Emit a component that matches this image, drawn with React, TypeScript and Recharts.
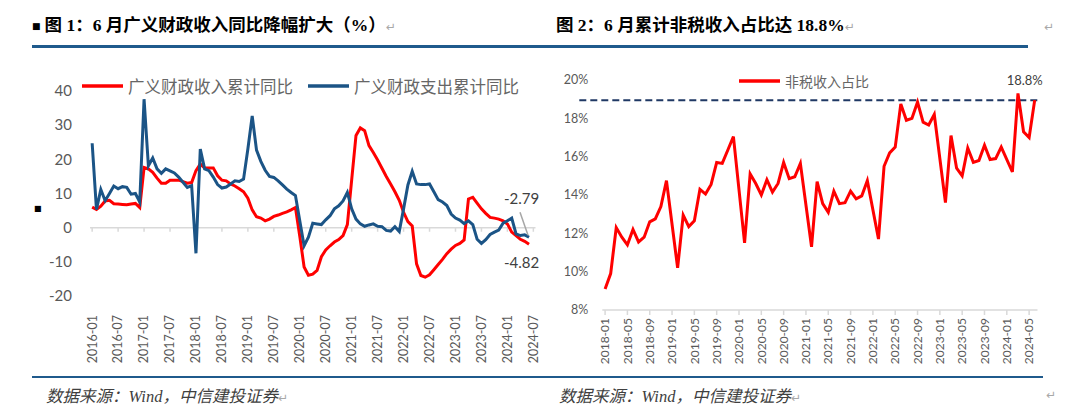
import { LineChart, Line, XAxis, YAxis, ReferenceLine, Legend } from 'recharts'

const monthLabels = (startYear: number, count: number) =>
  Array.from({ length: count }, (_, i) => `${startYear + Math.floor(i / 12)}-${String((i % 12) + 1).padStart(2, '0')}`)

// 图1：广义财政收入 / 支出累计同比（%），2016-01 ~ 2024-06，轴延伸到 2024-07
const leftMonths = monthLabels(2016, 103)
const leftSeriesNames = ['广义财政收入累计同比', '广义财政支出累计同比']
const revenueYoY = [
  6.0, 5.3, 6.3, 7.8, 8.0, 7.0, 6.9, 6.8, 6.7, 6.9, 7.1, 5.9,
  17.6, 17.2, 16.2, 14.5, 13.0, 13.0, 13.9, 13.9, 13.9, 13.5, 13.0, 13.2,
  16.7, 18.6, 17.5, 17.5, 17.5, 15.2, 13.9, 13.7, 12.8, 12.2, 11.4, 10.5,
  8.6, 5.2, 3.2, 2.8, 2.0, 2.5, 3.3, 3.7, 4.2, 4.6, 5.2, 5.9,
  -2.5, -11.5, -13.9, -13.6, -12.5, -8.5, -6.5, -5.3, -4.2, -3.5, -2.3, 0.9,
  14.0, 27.0, 29.2, 28.4, 24.0, 22.0, 19.8, 17.4, 15.0, 12.8, 10.5, 8.0,
  4.5, 1.8, 0.5, -10.6, -14.0, -14.5, -13.8, -12.3, -10.8, -9.3, -7.6, -6.3,
  -5.2, -4.6, -3.6, 8.4, 8.9, 7.2, 5.5, 4.2, 3.0, 2.8, 2.5, 2.0,
  1.1, -1.3, -2.3, -3.4, -4.0, -4.82,
]
const spendingYoY = [
  24.7, 5.3, 11.2, 7.9, 10.0, 12.2, 11.4, 12.0, 11.8, 9.8, 10.0, 7.5,
  37.6, 18.1, 20.4, 17.2, 15.9, 17.2, 16.6, 16.0, 14.8, 13.3, 11.8, 12.3,
  -7.5, 23.0, 17.2, 16.7, 14.8, 12.6, 11.6, 11.9, 12.8, 13.7, 13.5, 14.2,
  23.0, 32.7, 22.7, 19.4, 16.8, 15.0, 14.7, 13.7, 12.5, 11.3, 10.3, 9.4,
  2.0, -5.3, -2.8, 1.3, 1.1, 0.9, 2.3, 3.5, 5.5, 6.4, 7.8, 10.3,
  5.5, 2.5, 1.1, 0.4, 0.8, 1.1, 0.4, 0.3, -0.8, -1.0, 0.3, -1.1,
  5.5, 12.5, 16.5, 12.8, 12.6, 12.6, 12.8, 10.5, 8.2, 7.5, 6.5, 4.0,
  2.8, 2.2, 1.2, 2.0, 0.9, -3.4, -4.6, -3.5, -2.0, -1.3, -0.7, 1.3,
  2.0, 2.8, -1.8, -2.3, -2.1, -2.79,
]
const leftTicks = [-20, -10, 0, 10, 20, 30, 40]
const leftTickMonths = leftMonths.filter((_, i) => i % 6 === 0)

// 图2：非税收入占比（%），2018-01 ~ 2024-06，1 月无数据
const rightMonths = monthLabels(2018, 78)
const nonTaxShare = [
  9.1, 9.9, 12.3, 11.8, 11.4, 12.2, 11.55, 11.8, 12.6, 12.75, 13.4, 14.75,
  null, 10.2, 12.95, 12.35, 12.65, 14.3, 14.05, 14.55, 15.7, 15.65, 16.35, 17.05,
  null, 11.5, 15.1, 14.6, 14.0, 14.8, 14.15, 14.6, 15.7, 14.85, 14.95, 15.65,
  null, 11.3, 14.7, 13.55, 13.1, 14.2, 13.55, 13.6, 14.2, 13.8, 13.95, 14.75,
  null, 11.7, 15.5, 16.2, 16.5, 18.75, 17.9, 18.0, 18.85, 17.8, 17.65, 18.2,
  null, 13.6, 17.1, 15.4, 15.0, 16.45, 15.7, 15.8, 16.6, 15.85, 15.9, 16.5,
  null, 15.2, 19.3, 17.3, 17.0, 18.95,
]
const rightTicks = [8, 10, 12, 14, 16, 18, 20]
const markLevel = 18.95
const markText = '18.8%'

const leftData = leftMonths.map((month, i) => ({
  month,
  revenue: revenueYoY[i] ?? null,
  spending: spendingYoY[i] ?? null,
}))
const rightData = rightMonths.map((month, i) => ({ month, share: nonTaxShare[i] ?? null }))

const latin = 'Lato, "Noto Sans CJK SC", sans-serif'
const cjk = '"Noto Sans CJK SC", sans-serif'
const serif = '"Liberation Serif", "Noto Sans CJK SC", serif'
const axisGray = '#595959'
const ruleBlue = '#1f5a8c'
const red = '#ff0000'
const blue = '#1b5486'

const RotatedTick = (props: any) => {
  const { x, y, payload, fontSize } = props
  return (
    <text
      x={x}
      y={y}
      transform={`rotate(-90, ${x}, ${y})`}
      textAnchor="end"
      dy="0.35em"
      fontSize={fontSize}
      fill={axisGray}
      fontFamily={latin}
    >
      {payload.value}
    </text>
  )
}

// legend keeps the series order, not the alphabetical one
const LineLegend = ({ payload, fontSize, gap, order }: any) => {
  const items = [...(payload ?? [])].sort((a: any, b: any) => order.indexOf(a.value) - order.indexOf(b.value))
  return (
    <div style={{ display: 'flex', alignItems: 'center', gap }}>
      {items.map((item: any) => (
        <div key={item.value} style={{ display: 'flex', alignItems: 'center' }}>
          <svg width={41} height={6}>
            <line x1={0} y1={3} x2={41} y2={3} stroke={item.color} strokeWidth={3.5} />
          </svg>
          <span style={{ marginLeft: 5, fontSize, color: '#666', fontFamily: cjk, lineHeight: '22px', whiteSpace: 'nowrap' }}>
            {item.value}
          </span>
        </div>
      ))}
    </div>
  )
}

// 只在最后一个点上画数值标注
const endNote = (last: number, dx: number, dy: number, text: (v: number) => string, fontSize: number, leader?: boolean) =>
  (p: any) => {
    if (p.index !== last) return <g key={`dot-${p.index}`} />
    return (
      <g key={`dot-${p.index}`}>
        {leader && (
          <line x1={p.cx - 9} y1={p.cy - 25} x2={p.cx - 1} y2={p.cy - 2} stroke="#a6a6a6" strokeWidth={1.5} />
        )}
        <text x={p.cx + dx} y={p.cy + dy} dy="0.35em" textAnchor="middle" fontSize={fontSize} fill="#404040" fontFamily={latin}>
          {text(p.value)}
        </text>
      </g>
    )
  }

const LeftChart = () => (
  <LineChart width={545} height={417} data={leftData} margin={{ top: 91, right: 9.5, bottom: 61, left: 0 }}>
    <XAxis
      dataKey="month"
      interval={5}
      axisLine={false}
      tickLine={false}
      tickSize={0}
      tickMargin={19}
      height={60}
      padding={{ left: 2.16, right: 2.16 }}
      tick={(p: any) => <RotatedTick {...p} fontSize={12.5} />}
    />
    <YAxis
      width={90}
      domain={[-20, 40]}
      ticks={leftTicks}
      axisLine={false}
      tickLine={false}
      tickSize={0}
      tickMargin={18}
      tick={{ fontSize: 15, fill: axisGray, fontFamily: latin }}
    />
    <ReferenceLine y={0} stroke="#d9d9d9" strokeWidth={1.5} />
    {leftTickMonths.map((m) => (
      <ReferenceLine key={m} segment={[{ x: m, y: 0 }, { x: m, y: -1.2 }]} stroke="#d9d9d9" strokeWidth={1.5} />
    ))}
    <Legend
      verticalAlign="middle"
      align="center"
      wrapperStyle={{ top: 74.7, left: 82, width: 460, height: 22 }}
      content={(p: any) => <LineLegend payload={p.payload} fontSize={16.5} gap={15} order={leftSeriesNames} />}
    />
    <Line
      name={leftSeriesNames[0]}
      dataKey="revenue"
      type="linear"
      stroke={red}
      strokeWidth={3}
      dot={endNote(revenueYoY.length - 1, -7.5, 19, (v) => v.toFixed(2), 15)}
      activeDot={false}
      isAnimationActive={false}
    />
    <Line
      name={leftSeriesNames[1]}
      dataKey="spending"
      type="linear"
      stroke={blue}
      strokeWidth={3}
      dot={endNote(spendingYoY.length - 1, -7.5, -38, (v) => v.toFixed(2), 15, true)}
      activeDot={false}
      isAnimationActive={false}
    />
  </LineChart>
)

const RightChart = () => (
  <LineChart width={510} height={417} data={rightData} margin={{ top: 80, right: 12.5, bottom: 47, left: 0 }}>
    <XAxis
      dataKey="month"
      interval={3}
      axisLine={{ stroke: '#d9d9d9', strokeWidth: 1.5 }}
      tickLine={{ stroke: '#d9d9d9', strokeWidth: 1.5 }}
      tickSize={5}
      tickMargin={3}
      height={60}
      padding={{ left: 2.79, right: 2.79 }}
      tick={(p: any) => <RotatedTick {...p} fontSize={12} />}
    />
    <YAxis
      width={62.3}
      domain={[8, 20]}
      ticks={rightTicks}
      tickFormatter={(v) => `${v}%`}
      axisLine={false}
      tickLine={false}
      tickSize={0}
      tickMargin={14}
      tick={{ fontSize: 12.5, fill: axisGray, fontFamily: latin }}
    />
    <ReferenceLine
      y={markLevel}
      stroke="#1f3864"
      strokeWidth={2}
      strokeDasharray="7 4"
      shape={(p: any) => (
        <line x1={p.x1 - 23} y1={p.y1} x2={p.x2 + 3} y2={p.y2} stroke="#1f3864" strokeWidth={2} strokeDasharray="7 4" />
      )}
    />
    <Legend
      verticalAlign="middle"
      align="center"
      wrapperStyle={{ top: 69.7, left: 199, width: 220, height: 22 }}
      content={(p: any) => <LineLegend payload={p.payload} fontSize={14} gap={0} order={['非税收入占比']} />}
    />
    <Line
      name="非税收入占比"
      dataKey="share"
      type="linear"
      stroke={red}
      strokeWidth={3}
      connectNulls
      dot={endNote(nonTaxShare.length - 1, -10, -20, () => markText, 13)}
      activeDot={false}
      isAnimationActive={false}
    />
  </LineChart>
)

const text = (style: any) => ({ position: 'absolute' as const, whiteSpace: 'nowrap' as const, ...style })
const returnMark = { fontFamily: '"DejaVu Sans"', color: '#a8a8a8', fontWeight: 400, fontStyle: 'normal', fontSize: 12 }

export default function App() {
  return (
    <div style={{ position: 'absolute', left: 0, top: 0, width: 1080, height: 417, background: '#fff', overflow: 'hidden' }}>
      <div style={text({ left: 32, top: 14, fontFamily: serif, fontWeight: 700, fontSize: 17.5, lineHeight: '22px', color: '#000' })}>
        <span style={{ fontFamily: '"DejaVu Sans"', fontSize: 9, marginRight: 4, position: 'relative', top: -2 }}>■</span>
        图 1：6 月广义财政收入同比降幅扩大（%）<span style={returnMark}>↵</span>
      </div>
      <div style={text({ left: 556, top: 14, fontFamily: serif, fontWeight: 700, fontSize: 17.5, lineHeight: '22px', color: '#000' })}>
        图 2：6 月累计非税收入占比达 18.8%<span style={returnMark}>↵</span>
      </div>
      <div style={text({ left: 1044, top: 20, ...returnMark })}>↵</div>
      <div style={{ position: 'absolute', left: 32, top: 45, width: 996, height: 3, background: ruleBlue }} />

      <div style={{ position: 'absolute', left: 0, top: 0 }}>
        <LeftChart />
      </div>
      <div style={{ position: 'absolute', left: 540, top: 0 }}>
        <RightChart />
      </div>
      <div style={text({ left: 34, top: 204, fontFamily: '"DejaVu Sans"', fontSize: 8, color: '#000' })}>■</div>

      <div style={{ position: 'absolute', left: 32, top: 376, width: 1011, height: 2, background: ruleBlue }} />
      <div style={text({ left: 46, top: 386, fontFamily: serif, fontStyle: 'italic', fontSize: 16.5, lineHeight: '22px', color: '#404040' })}>
        数据来源：Wind，中信建投证券<span style={returnMark}>↵</span>
      </div>
      <div style={text({ left: 559, top: 386, fontFamily: serif, fontStyle: 'italic', fontSize: 16.5, lineHeight: '22px', color: '#404040' })}>
        数据来源：Wind，中信建投证券<span style={returnMark}>↵</span>
      </div>
      <div style={text({ left: 1046, top: 388, ...returnMark })}>↵</div>
    </div>
  )
}
